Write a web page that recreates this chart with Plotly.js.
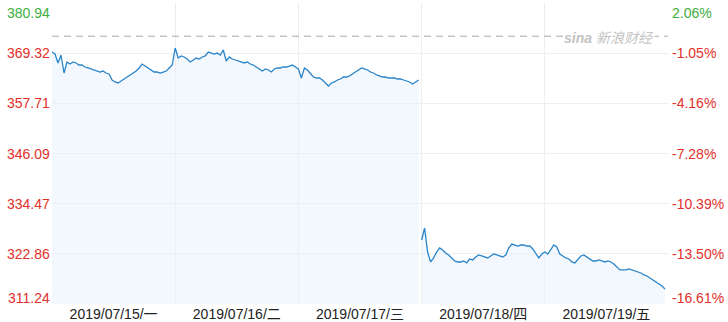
<!DOCTYPE html>
<html>
<head>
<meta charset="utf-8">
<script src="https://cdn.plot.ly/plotly-3.0.1.min.js"></script>
<style>
  html, body { margin: 0; padding: 0; background: #fff; }
  #chart { width: 728px; height: 322px; }
</style>
</head>
<body>
<div id="chart"></div>
<script>
// Five-day intraday price chart, sampled 41 points per session
const dayLabels = ['2019/07/15/一', '2019/07/16/二', '2019/07/17/三', '2019/07/18/四', '2019/07/19/五'];

const day1 = [369.59, 369.13, 367.05, 368.90, 364.73, 367.28, 366.81, 367.28, 367.05, 366.58,
  366.58, 366.12, 365.89, 365.66, 365.43, 365.19, 364.96, 365.19, 364.73, 364.50,
  363.11, 362.65, 362.42, 362.88, 363.34, 363.80, 364.27, 364.73, 365.19, 365.89,
  366.81, 366.35, 365.89, 365.43, 364.96, 364.96, 364.73, 364.96, 365.19, 365.89, 366.58];

const day2 = [370.52, 368.20, 368.67, 368.44, 367.97, 367.28, 367.74, 368.20, 367.97, 368.44,
  368.67, 369.59, 369.36, 369.13, 369.36, 368.90, 370.06, 367.51, 368.44, 367.97,
  367.74, 367.51, 367.28, 367.05, 367.28, 366.81, 366.58, 366.12, 365.66, 365.19,
  365.66, 365.43, 364.96, 365.66, 365.89, 365.89, 366.12, 366.12, 366.35, 366.58, 366.12];

const day3 = [365.66, 363.57, 365.89, 365.43, 364.73, 363.80, 363.57, 363.57, 363.11, 362.42,
  361.72, 362.42, 362.65, 363.11, 363.34, 363.80, 363.80, 364.04, 364.50, 364.96,
  365.43, 365.89, 365.66, 365.43, 364.96, 364.73, 364.27, 364.04, 363.80, 363.80,
  363.57, 363.57, 363.57, 363.34, 363.34, 363.11, 362.88, 362.65, 362.18, 362.65, 363.11];

const day4 = [326.06, 328.84, 323.28, 320.97, 321.90, 323.28, 324.21, 323.75, 323.05, 322.59,
  321.90, 321.20, 320.97, 320.97, 321.20, 320.74, 321.66, 321.43, 322.13, 322.59,
  322.36, 322.13, 321.90, 322.36, 322.82, 322.59, 322.36, 322.13, 322.59, 324.21,
  325.13, 324.90, 324.67, 324.90, 324.90, 324.67, 324.67, 323.98, 322.82, 321.90, 322.82];

const day5 = [323.28, 322.82, 323.98, 324.90, 324.44, 322.82, 322.36, 321.90, 321.66, 320.97,
  320.74, 321.66, 322.36, 322.59, 322.13, 321.66, 321.20, 321.20, 321.43, 321.20,
  320.97, 321.20, 320.97, 320.50, 319.81, 319.12, 319.12, 319.12, 319.35, 319.12,
  318.89, 318.65, 318.42, 317.96, 317.73, 317.27, 316.80, 316.34, 315.88, 315.42, 314.72];

const prevClose = 373.25;
const priceTicks = [380.94, 369.32, 357.71, 346.09, 334.47, 322.86, 311.24];
const pctTicks = ['2.06%', '-1.05%', '-4.16%', '-7.28%', '-10.39%', '-13.50%', '-16.61%'];

const UP = '#3dae3d';
const DOWN = '#e2302a';
const LINE = '#2a84c9';
const FONT = 'Liberation Sans, Arial, "Noto Sans CJK SC", sans-serif';

// Sessions before and after the 07/18 gap are drawn as separate segments
function session(days, startDay) {
  const xs = [], ys = [];
  days.forEach((vals, k) => {
    vals.forEach((v, i) => {
      xs.push(startDay + k + i / vals.length);
      ys.push(v);
    });
  });
  return { x: xs, y: ys };
}
const segA = session([day1, day2, day3], 0);
const segB = session([day4, day5], 3);

const traceStyle = {
  type: 'scatter', mode: 'lines',
  line: { color: LINE, width: 1.3 },
  fill: 'tozeroy', fillcolor: 'rgba(232,242,252,0.55)',
  hoverinfo: 'skip', showlegend: false
};

const data = [
  Object.assign({}, traceStyle, segA),
  Object.assign({}, traceStyle, segB)
];

const lo = priceTicks[priceTicks.length - 1];
const hi = priceTicks[0];

const annotations = [];
priceTicks.forEach((p, i) => {
  const color = p >= prevClose ? UP : DOWN;
  let shift = 0;
  if (i === 0) shift = -10;
  if (i === priceTicks.length - 1) shift = 6;
  annotations.push({
    xref: 'paper', yref: 'y', x: 0, y: p, xanchor: 'right', yanchor: 'middle',
    xshift: 0, yshift: shift, showarrow: false, text: p.toFixed(2),
    font: { family: FONT, size: 14, color: color }
  });
  annotations.push({
    xref: 'paper', yref: 'y', x: 1, y: p, xanchor: 'left', yanchor: 'middle',
    xshift: 2, yshift: shift, showarrow: false, text: pctTicks[i],
    font: { family: FONT, size: 14, color: color }
  });
});

// Watermark sitting on the reference line
annotations.push({
  xref: 'paper', yref: 'y', x: 0.905, y: prevClose, xanchor: 'center', yanchor: 'middle',
  yshift: -2, showarrow: false, bgcolor: '#ffffff', borderpad: 0,
  text: '<b><i>sina</i></b> <i>新浪财经</i>',
  font: { family: FONT, size: 14, color: '#c4c4c4' }
});

const layout = {
  width: 728, height: 322,
  margin: { l: 52, r: 60, t: 3, b: 18 },
  paper_bgcolor: '#ffffff', plot_bgcolor: '#ffffff',
  xaxis: {
    range: [0, 5], showgrid: false, zeroline: false, showline: false,
    tickmode: 'array', tickvals: dayLabels.map((_, i) => i + 0.5), ticktext: dayLabels,
    ticks: '', ticklen: 0,
    tickfont: { family: FONT, size: 14, color: '#222' },
    minor: { tick0: 0, dtick: 1, showgrid: true, gridcolor: '#eeeeee', gridwidth: 1, ticks: '' },
    fixedrange: true
  },
  yaxis: {
    range: [lo, hi], tickmode: 'array', tickvals: priceTicks,
    showticklabels: false, showgrid: true, gridcolor: '#eeeeee', gridwidth: 1,
    zeroline: false, showline: false, ticks: '', fixedrange: true
  },
  shapes: [{
    type: 'line', xref: 'paper', yref: 'y', x0: 0, x1: 1, y0: prevClose, y1: prevClose,
    line: { color: '#a8a8a8', width: 1, dash: '7px,5px' }
  }],
  annotations: annotations
};

Plotly.newPlot('chart', data, layout, { displayModeBar: false, staticPlot: true });
</script>
</body>
</html>
